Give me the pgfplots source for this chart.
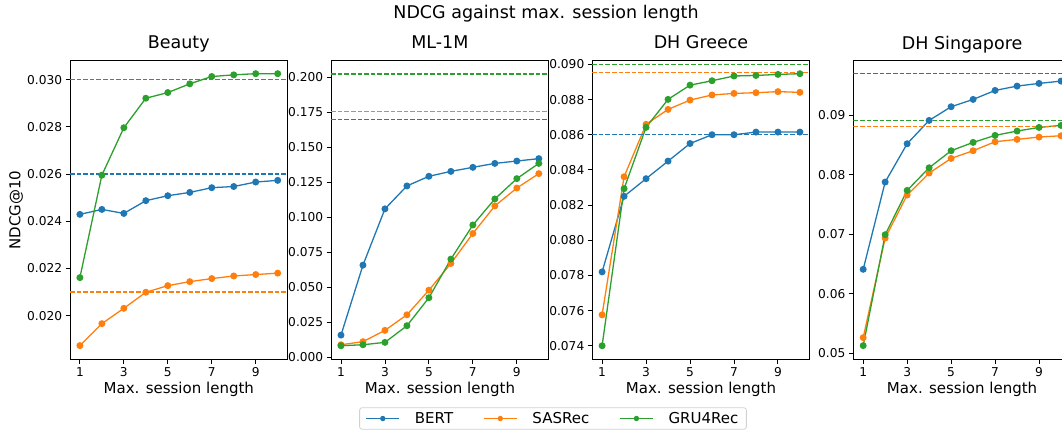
\documentclass[border=0pt]{standalone}
\usepackage{fontspec}
\setmainfont{DejaVu Sans}
\usepackage{pgfplots}
\usepackage{pgfplotstable}
\pgfplotsset{compat=1.18}
\definecolor{C0}{HTML}{1F77B4}
\definecolor{C1}{HTML}{FF7F0E}
\definecolor{C2}{HTML}{2CA02C}

\pgfplotstableread{
x bert sas gru
1 0.02429 0.01873 0.02161
2 0.02450 0.01966 0.02595
3 0.02433 0.02031 0.02796
4 0.02487 0.02099 0.02921
5 0.02508 0.02127 0.02945
6 0.02522 0.02144 0.02982
7 0.02542 0.02157 0.03013
8 0.02547 0.02168 0.03020
9 0.02566 0.02174 0.03025
10 0.02573 0.02180 0.03025
}\beauty
\pgfplotstableread{
x bert sas gru
1 0.0159 0.0090 0.0083
2 0.0659 0.0112 0.0090
3 0.1061 0.0193 0.0107
4 0.1225 0.0304 0.0226
5 0.1294 0.0480 0.0426
6 0.1329 0.0671 0.0702
7 0.1358 0.0885 0.0946
8 0.1386 0.1082 0.1132
9 0.1403 0.1210 0.1277
10 0.1420 0.1313 0.1386
}\mlm
\pgfplotstableread{
x bert sas gru
1 0.0782 0.07576 0.07400
2 0.0825 0.08361 0.08293
3 0.0835 0.08659 0.08642
4 0.0845 0.08744 0.08801
5 0.0855 0.08797 0.08882
6 0.0860 0.08826 0.08907
7 0.0860 0.08835 0.08934
8 0.08615 0.08839 0.08937
9 0.08615 0.08845 0.08943
10 0.08615 0.08841 0.08947
}\greece
\pgfplotstableread{
x bert sas gru
1 0.06412 0.05263 0.05129
2 0.07880 0.06938 0.06994
3 0.08524 0.07661 0.07739
4 0.08916 0.08031 0.08120
5 0.09146 0.08277 0.08406
6 0.09269 0.08406 0.08546
7 0.09420 0.08557 0.08664
8 0.09493 0.08597 0.08737
9 0.09538 0.08636 0.08798
10 0.09577 0.08658 0.08832
}\singapore

\pgfplotsset{
  panel/.style={
    scale only axis, width=217.6pt, height=298.6pt, anchor=south west,
    xmin=0.55, xmax=10.45, xtick={1,3,5,7,9},
    tick align=outside, tick pos=left,
    major tick length=4.4pt,
    every tick/.style={black, line width=0.9pt},
    axis line style={black, line width=0.9pt},
    /pgf/number format/assume math mode=true,
    ticklabel style={font=\fontsize{12.2}{14}\selectfont},
    scaled y ticks=false,
    yticklabel style={/pgf/number format/fixed, /pgf/number format/fixed zerofill, /pgf/number format/precision=3},
    xlabel={Max. session length},
    xlabel style={font=\fontsize{15}{18}\selectfont, at={(axis description cs:0.5,0)}, anchor=base, yshift=-34pt},
    title style={font=\fontsize{17.5}{20}\selectfont, at={(axis description cs:0.5,1)}, anchor=base, yshift=5.7pt},
  },
  ser/.style={#1, line width=1.3pt, mark=*, mark size=2.8pt, mark options={solid, fill=#1, draw=#1}},
  hl/.style={#1, line width=1.4pt, dash pattern=on 4.6pt off 2pt, forget plot},
}

\begin{document}
\begin{tikzpicture}
\node[font=\fontsize{17.5}{20}\selectfont] at (546pt,420pt) {NDCG against max. session length};

% Beauty
\begin{axis}[panel, at={(70pt,74.7pt)}, title={Beauty},
  ymin=0.01815, ymax=0.0308, ytick={0.020,0.022,0.024,0.026,0.028,0.030},
  ylabel={NDCG@10}, ylabel style={font=\fontsize{15}{18}\selectfont, at={(axis description cs:-0.248,0.5)}, anchor=center}]
\addplot[ser=C0] table[x=x,y=bert]{\beauty};
\addplot[ser=C1] table[x=x,y=sas]{\beauty};
\addplot[ser=C2] table[x=x,y=gru]{\beauty};
\addplot[hl=C0] coordinates {(0.55,0.026) (10.45,0.026)};
\addplot[hl=C1] coordinates {(0.55,0.021) (10.45,0.021)};
\addplot[hl=C2] coordinates {(0.55,0.030) (10.45,0.030)};
\end{axis}

% ML-1M
\begin{axis}[panel, at={(331.1pt,74.7pt)}, title={ML-1M},
  ymin=-0.0014, ymax=0.212, ytick={0,0.025,0.050,0.075,0.100,0.125,0.150,0.175,0.200},
  legend columns=3,
  legend style={at={(axis description cs:1.0198,-0.1983)}, anchor=center,
    draw=black!18, line width=0.8pt, rounded corners=2.5pt,
    font=\fontsize{15}{18}\selectfont, inner xsep=6pt, inner ysep=2.5pt,
    /tikz/every odd column/.append style={column sep=13pt},
    /tikz/every even column/.append style={column sep=28pt}},
  legend image code/.code={\draw[mark repeat=2, mark phase=2, #1, mark size=2pt] plot coordinates {(0pt,0pt) (16.5pt,0pt) (33pt,0pt)};}]
\addplot[ser=C0] table[x=x,y=bert]{\mlm};
\addplot[ser=C1] table[x=x,y=sas]{\mlm};
\addplot[ser=C2] table[x=x,y=gru]{\mlm};
\addplot[hl=C0] coordinates {(0.55,0.170) (10.45,0.170)};
\addplot[hl=C1] coordinates {(0.55,0.1757) (10.45,0.1757)};
\addplot[hl=C2] coordinates {(0.55,0.2026) (10.45,0.2026)};
\legend{BERT,SASRec,GRU4Rec}
\end{axis}

% DH Greece
\begin{axis}[panel, at={(592.2pt,74.7pt)}, title={DH Greece},
  ymin=0.07323, ymax=0.09021, ytick={0.074,0.076,0.078,0.080,0.082,0.084,0.086,0.088,0.090}]
\addplot[ser=C0] table[x=x,y=bert]{\greece};
\addplot[ser=C1] table[x=x,y=sas]{\greece};
\addplot[ser=C2] table[x=x,y=gru]{\greece};
\addplot[hl=C0] coordinates {(0.55,0.08602) (10.45,0.08602)};
\addplot[hl=C1] coordinates {(0.55,0.08953) (10.45,0.08953)};
\addplot[hl=C2] coordinates {(0.55,0.0900) (10.45,0.0900)};
\end{axis}

% DH Singapore
\begin{axis}[panel, at={(853.3pt,74.7pt)}, title={DH Singapore},
  ymin=0.04899, ymax=0.0992, ytick={0.05,0.06,0.07,0.08,0.09},
  yticklabel style={/pgf/number format/precision=2}]
\addplot[ser=C0] table[x=x,y=bert]{\singapore};
\addplot[ser=C1] table[x=x,y=sas]{\singapore};
\addplot[ser=C2] table[x=x,y=gru]{\singapore};
\addplot[hl=C0] coordinates {(0.55,0.09706) (10.45,0.09706)};
\addplot[hl=C1] coordinates {(0.55,0.08815) (10.45,0.08815)};
\addplot[hl=C2] coordinates {(0.55,0.0891) (10.45,0.0891)};
\end{axis}

\pgfresetboundingbox
\path[use as bounding box] (0pt,0pt) rectangle (1062pt,434pt);
\end{tikzpicture}
\end{document}
